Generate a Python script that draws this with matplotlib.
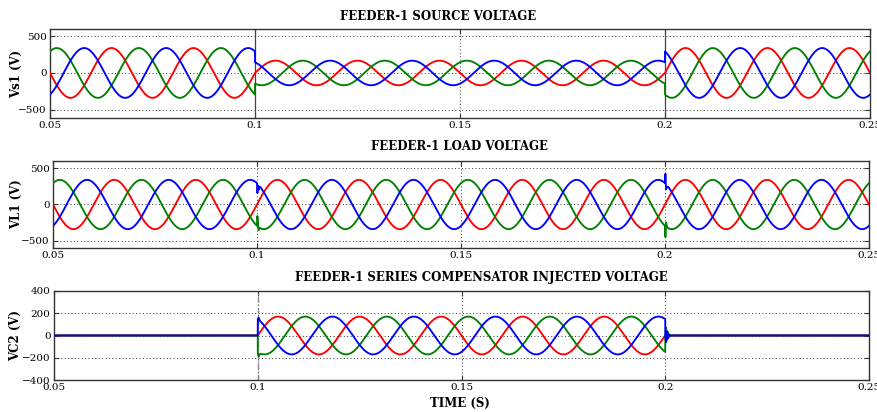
import numpy as np
import matplotlib
matplotlib.use("Agg")
import matplotlib.pyplot as plt

# ---- signal parameters ----
t_begin, t_finish = 0.05, 0.25
freq_hz = 50.0
sag_start, sag_end = 0.10, 0.20
amp_nominal = 340.0          # normal phase peak voltage (V)
amp_sag = 168.0              # source peak voltage during the sag (V)
amp_injected = 170.0         # series compensator peak voltage (V)
phase_names = ["a", "b", "c"]
phase_deg = [0.0, -120.0, 120.0]
phase_colors = ["#ff0000", "#008000", "#0000ff"]

# switching transients: time after the event (s) and voltage offset (V)
trans_t = [0.0, 0.0001, 0.00025, 0.0004, 0.0006, 0.0009]
load_on_offsets = {"a": [0, 0, 0, 0, 0, 0],
                   "b": [0, 140, 30, -40, 0, 0],
                   "c": [0, -130, -20, -70, -10, 0]}
load_off_offsets = {"a": [0, 0, 0, 0, 0, 0],
                    "b": [0, -150, 60, 20, 0, 0],
                    "c": [0, 135, -70, -40, -10, 0]}
inj_on_offsets = {"a": [0, 0, 0, 0, 0, 0],
                  "b": [0, -30, -35, -15, -5, 0],
                  "c": [0, 10, 20, 5, 0, 0]}
inj_off_t = [0.0, 0.0002, 0.0004, 0.0006, 0.0008, 0.001, 0.0013]
inj_off_values = {"a": [0, 10, -8, 5, 0, 0, 0],
                  "b": [0, 70, -40, 35, -20, 8, 0],
                  "c": [0, -60, 40, -30, 15, -5, 0]}

y_ticks_v = [-500, 0, 500]
y_ticks_c = [-400, -200, 0, 200, 400]
x_ticks = [0.05, 0.1, 0.15, 0.2, 0.25]
x_tick_labels = ["0.05", "0.1", "0.15", "0.2", "0.25"]

t = np.arange(t_begin, t_finish + 1e-6, 1e-5)
w = 2 * np.pi * freq_hz
in_sag = (t >= sag_start) & (t < sag_end)


def event_offset(tt, t0, rel_t, offs):
    return np.interp(tt - t0, rel_t, offs, left=0.0, right=0.0)


source, load, inj = {}, {}, {}
for name, ph in zip(phase_names, phase_deg):
    base = np.sin(w * t + np.deg2rad(ph))
    amp_src = np.where(in_sag, amp_sag, amp_nominal)
    source[name] = amp_src * base
    load[name] = (amp_nominal * base
                  + event_offset(t, sag_start, trans_t, load_on_offsets[name])
                  + event_offset(t, sag_end, trans_t, load_off_offsets[name]))
    inj[name] = (np.where(in_sag, amp_injected * base, 0.0)
                 + event_offset(t, sag_start, trans_t, inj_on_offsets[name])
                 + event_offset(t, sag_end, inj_off_t, inj_off_values[name]))

# ---- figure ----
W, H = 878, 412
fig = plt.figure(figsize=(W / 100, H / 100), dpi=100)
serif = "DejaVu Serif"


def box(l, r, top, bot):
    return [l / W, 1 - bot / H, (r - l) / W, (bot - top) / H]


panels = [
    dict(pos=box(50, 870, 29, 118), data=source, ylim=(-615, 600), yt=y_ticks_v,
         title="FEEDER-1 SOURCE VOLTAGE", tx=438, ty=16, ylabel="Vs1 (V)", ylx=17),
    dict(pos=box(53, 869, 161, 248), data=load, ylim=(-600, 600), yt=y_ticks_v,
         title="FEEDER-1 LOAD VOLTAGE", tx=460, ty=147, ylabel="VL1 (V)", ylx=17),
    dict(pos=box(54, 869, 291, 380), data=inj, ylim=(-400, 400), yt=y_ticks_c,
         title="FEEDER-1 SERIES COMPENSATOR INJECTED VOLTAGE", tx=481, ty=278,
         ylabel="VC2 (V)", ylx=16),
]

for i, p in enumerate(panels):
    ax = fig.add_axes(p["pos"])
    for name, col in zip(phase_names, phase_colors):
        ax.plot(t, p["data"][name], color=col, lw=1.35, zorder=3)
    ax.set_xlim(t_begin, t_finish)
    ax.set_ylim(*p["ylim"])
    ax.set_xticks(x_ticks)
    ax.set_xticklabels(x_tick_labels)
    ax.set_yticks(p["yt"])
    ax.grid(True, linestyle=(0, (1, 2.5)), color="#333333", lw=0.7)
    if i == 0:
        for xv in (sag_start, sag_end):
            ax.axvline(xv, color="#444444", lw=0.9, zorder=2)
    if i == 2:
        ax.axvline(sag_start, color="#888888", lw=1.0, ls=(0, (4, 1.5, 1, 1.5)), zorder=2)
    ax.tick_params(direction="in", length=3.5, top=True, right=True,
                   labelsize=7.5, pad=2.5, color="#333333")
    for lab in ax.get_xticklabels() + ax.get_yticklabels():
        lab.set_fontfamily(serif)
    for s in ax.spines.values():
        s.set_color("#333333")
        s.set_linewidth(1.0)
    fig.text(p["tx"] / W, 1 - p["ty"] / H, p["title"], ha="center", va="center",
             fontsize=8.5, fontweight="bold", family=serif)
    fig.text(p["ylx"] / W, p["pos"][1] + p["pos"][3] / 2, p["ylabel"], rotation=90,
             ha="center", va="center", fontsize=8.5, fontweight="bold", family=serif)

fig.text(460 / W, 1 - 403 / H, "TIME (S)", ha="center", va="center",
         fontsize=8.5, fontweight="bold", family=serif)

fig.savefig("out.png", dpi=100)
